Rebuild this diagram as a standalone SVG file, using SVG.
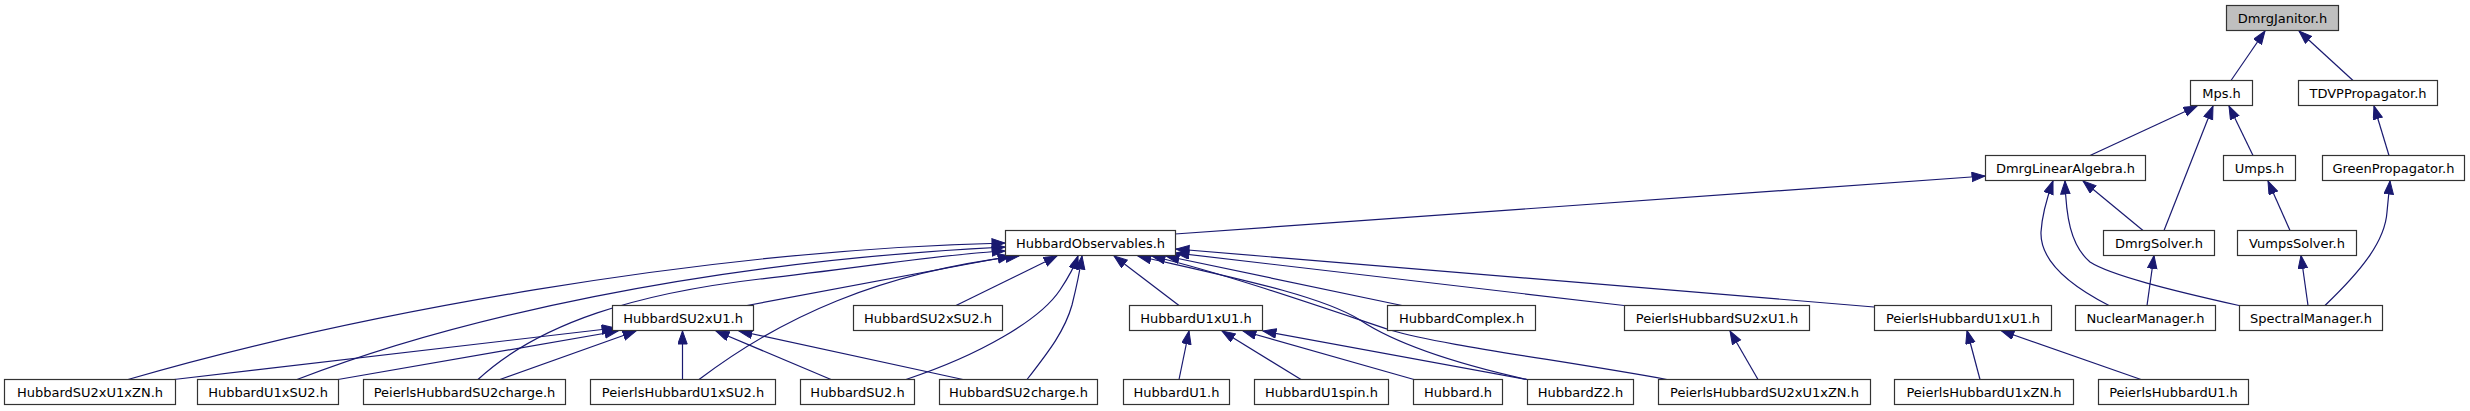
<svg xmlns="http://www.w3.org/2000/svg" width="2470" height="411" viewBox="0 0 2470 411">
<defs>
<style>
.node rect{fill:#ffffff;stroke:#333333;stroke-width:1.2}
.node.root rect{fill:#bfbfbf}
.node text{font-family:"DejaVu Sans","Liberation Sans",sans-serif;font-size:13px;fill:#000000;text-anchor:middle}
.edges path{fill:none;stroke:#191970;stroke-width:1.2;marker-end:url(#arr)}
</style>
<marker id="arr" markerUnits="userSpaceOnUse" markerWidth="15" markerHeight="11" refX="13.5" refY="5" orient="auto" viewBox="0 0 15 11">
<path d="M0.5,0.3 L13.5,5 L0.5,9.7 z" fill="#191970" stroke="#191970" stroke-width="1"/>
</marker>
</defs>
<rect width="2470" height="411" fill="#ffffff"/>
<g class="edges" id="edges">
<path d="M2231,80.5 L2265,31"/>
<path d="M2353,80.5 L2299,31"/>
<path d="M2090,155.5 L2197,106"/>
<path d="M2164,230.5 L2213,106"/>
<path d="M2253,155.5 L2229,106"/>
<path d="M2389,155.5 L2374,106"/>
<path d="M1175,234 L1985,176"/>
<path d="M2109,305.5 C2065,283 2040,258 2041,232 C2042,215 2048,195 2053,181"/>
<path d="M2239,305.5 C2170,290 2110,275 2090,262 C2070,245 2066,215 2065,181"/>
<path d="M2143,230.5 L2083,181"/>
<path d="M2290,230.5 L2268,181"/>
<path d="M2325,305.5 C2360,272 2385,242 2387,212 L2390,181"/>
<path d="M2147,305.5 L2154,255.5"/>
<path d="M2308,305.5 L2301,255.5"/>
<path d="M1980,379.5 L1967,330.5"/>
<path d="M2141,379.5 L2001,330.5"/>
<path d="M1874,307 L1176,249"/>
<path d="M1624,305.5 L1176,253"/>
<path d="M1402,305.5 L1166,256"/>
<path d="M1527,379.5 C1440,360 1390,340 1360,320 C1320,295 1230,277 1138,256"/>
<path d="M1667,379.5 C1560,360 1440,345 1390,330 C1330,310 1230,275 1152,256"/>
<path d="M1179,305.5 L1114,256"/>
<path d="M956,305.5 L1057,256"/>
<path d="M747,305.5 L1011,256"/>
<path d="M699,379.5 C780,318 880,272 1019,256"/>
<path d="M906,379.5 C980,355 1040,320 1060,290 C1068,278 1074,268 1078,256"/>
<path d="M1027,379.5 C1050,350 1065,330 1072,305 C1077,285 1080,270 1082,256"/>
<path d="M128,379.5 C350,315 700,250 1005,243"/>
<path d="M297,379.5 C450,320 700,262 1005,247"/>
<path d="M478,379.5 C540,322 640,293 760,279 C860,268 950,253 1005,251"/>
<path d="M174,379.5 L615,328"/>
<path d="M338,379.5 L618,331"/>
<path d="M500,379.5 L636,331"/>
<path d="M682.5,379.5 L682.5,331"/>
<path d="M831,379.5 L716,331"/>
<path d="M963,379.5 L739,331"/>
<path d="M1179,379.5 L1189,331"/>
<path d="M1301,379.5 L1222,331"/>
<path d="M1414,379.5 L1243,331"/>
<path d="M1527,379.5 L1263,331"/>
<path d="M1758,379.5 L1730,331"/>
</g>
<g class="node root" id="n0"><rect x="2226.5" y="5.5" width="112" height="25"/><text x="2282.5" y="22.5">DmrgJanitor.h</text></g>
<g class="node" id="n1"><rect x="2190.5" y="80.5" width="62" height="25"/><text x="2221.5" y="97.5">Mps.h</text></g>
<g class="node" id="n2"><rect x="2298.5" y="80.5" width="139" height="25"/><text x="2368" y="97.5">TDVPPropagator.h</text></g>
<g class="node" id="n3"><rect x="1985.5" y="155.5" width="160" height="25"/><text x="2065.5" y="172.5">DmrgLinearAlgebra.h</text></g>
<g class="node" id="n4"><rect x="2223.5" y="155.5" width="72" height="25"/><text x="2259.5" y="172.5">Umps.h</text></g>
<g class="node" id="n5"><rect x="2322.5" y="155.5" width="142" height="25"/><text x="2393.5" y="172.5">GreenPropagator.h</text></g>
<g class="node" id="n6"><rect x="1005.5" y="230.5" width="170" height="25"/><text x="1090.5" y="247.5">HubbardObservables.h</text></g>
<g class="node" id="n7"><rect x="2103.5" y="230.5" width="111" height="25"/><text x="2159" y="247.5">DmrgSolver.h</text></g>
<g class="node" id="n8"><rect x="2237.5" y="230.5" width="119" height="25"/><text x="2297" y="247.5">VumpsSolver.h</text></g>
<g class="node" id="n9"><rect x="612.5" y="305.5" width="141" height="25"/><text x="683" y="322.5">HubbardSU2xU1.h</text></g>
<g class="node" id="n10"><rect x="853.5" y="305.5" width="149" height="25"/><text x="928" y="322.5">HubbardSU2xSU2.h</text></g>
<g class="node" id="n11"><rect x="1129.5" y="305.5" width="133" height="25"/><text x="1196" y="322.5">HubbardU1xU1.h</text></g>
<g class="node" id="n12"><rect x="1387.5" y="305.5" width="148" height="25"/><text x="1461.5" y="322.5">HubbardComplex.h</text></g>
<g class="node" id="n13"><rect x="1624.5" y="305.5" width="185" height="25"/><text x="1717" y="322.5">PeierlsHubbardSU2xU1.h</text></g>
<g class="node" id="n14"><rect x="1874.5" y="305.5" width="177" height="25"/><text x="1963" y="322.5">PeierlsHubbardU1xU1.h</text></g>
<g class="node" id="n15"><rect x="2075.5" y="305.5" width="140" height="25"/><text x="2145.5" y="322.5">NuclearManager.h</text></g>
<g class="node" id="n16"><rect x="2239.5" y="305.5" width="143" height="25"/><text x="2311" y="322.5">SpectralManager.h</text></g>
<g class="node" id="n17"><rect x="4.5" y="379.5" width="171" height="25"/><text x="90" y="396.5">HubbardSU2xU1xZN.h</text></g>
<g class="node" id="n18"><rect x="197.5" y="379.5" width="141" height="25"/><text x="268" y="396.5">HubbardU1xSU2.h</text></g>
<g class="node" id="n19"><rect x="363.5" y="379.5" width="202" height="25"/><text x="464.5" y="396.5">PeierlsHubbardSU2charge.h</text></g>
<g class="node" id="n20"><rect x="590.5" y="379.5" width="185" height="25"/><text x="683" y="396.5">PeierlsHubbardU1xSU2.h</text></g>
<g class="node" id="n21"><rect x="800.5" y="379.5" width="114" height="25"/><text x="857.5" y="396.5">HubbardSU2.h</text></g>
<g class="node" id="n22"><rect x="939.5" y="379.5" width="158" height="25"/><text x="1018.5" y="396.5">HubbardSU2charge.h</text></g>
<g class="node" id="n23"><rect x="1123.5" y="379.5" width="106" height="25"/><text x="1176.5" y="396.5">HubbardU1.h</text></g>
<g class="node" id="n24"><rect x="1254.5" y="379.5" width="134" height="25"/><text x="1321.5" y="396.5">HubbardU1spin.h</text></g>
<g class="node" id="n25"><rect x="1413.5" y="379.5" width="89" height="25"/><text x="1458" y="396.5">Hubbard.h</text></g>
<g class="node" id="n26"><rect x="1527.5" y="379.5" width="106" height="25"/><text x="1580.5" y="396.5">HubbardZ2.h</text></g>
<g class="node" id="n27"><rect x="1658.5" y="379.5" width="212" height="25"/><text x="1764.5" y="396.5">PeierlsHubbardSU2xU1xZN.h</text></g>
<g class="node" id="n28"><rect x="1894.5" y="379.5" width="179" height="25"/><text x="1984" y="396.5">PeierlsHubbardU1xZN.h</text></g>
<g class="node" id="n29"><rect x="2098.5" y="379.5" width="150" height="25"/><text x="2173.5" y="396.5">PeierlsHubbardU1.h</text></g>
</svg>
